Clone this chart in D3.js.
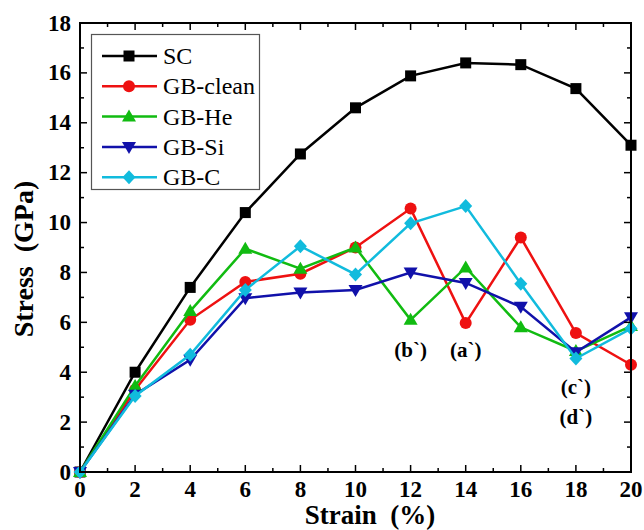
<!DOCTYPE html>
<html>
<head>
<meta charset='UTF-8'>
<script src='https://d3js.org/d3.v7.min.js'></script>
<style>
  body { margin: 0; background: #fff; }
  text { font-family: 'Liberation Serif', 'Times New Roman', serif; }
</style>
</head>
<body>
<svg id='chart' width='644' height='530'></svg>
<script type='text/javascript'>
    var strain = [0, 2, 4, 6, 8, 10, 12, 14, 16, 18, 20];
    var sc      = [0, 4.0, 7.4, 10.4, 12.75, 14.6, 15.88, 16.4, 16.33, 15.37, 13.1];
    var gbClean = [0, 3.3, 6.1, 7.62, 7.95, 9.0, 10.56, 5.97, 9.4, 5.57, 4.3];
    var gbHe    = [0, 3.45, 6.45, 8.95, 8.15, 9.0, 6.1, 8.2, 5.8, 4.85, 5.85];
    var gbSi    = [0, 3.1, 4.5, 6.97, 7.2, 7.3, 8.0, 7.58, 6.62, 4.8, 6.2];
    var gbC     = [0, 3.05, 4.7, 7.3, 9.05, 7.92, 9.97, 10.66, 7.55, 4.55, 5.75];
    var xTicks = [0, 2, 4, 6, 8, 10, 12, 14, 16, 18, 20];
    var yTicks = [0, 2, 4, 6, 8, 10, 12, 14, 16, 18];

    var series = [
        {name: 'SC', values: sc, color: '#000000', symbol: 'square'},
        {name: 'GB-clean', values: gbClean, color: '#ee1111', symbol: 'circle'},
        {name: 'GB-He', values: gbHe, color: '#11bb11', symbol: 'triUp'},
        {name: 'GB-Si', values: gbSi, color: '#1111aa', symbol: 'triDown'},
        {name: 'GB-C', values: gbC, color: '#11bbdd', symbol: 'diamond'}
    ];

    var notes = [
        {label: '(b`)', x: 12, y: 4.62},
        {label: '(a`)', x: 14, y: 4.62},
        {label: '(c`)', x: 18, y: 3.13},
        {label: '(d`)', x: 18, y: 1.92}
    ];

    var plotL = 80, plotR = 631, plotT = 23, plotB = 472;

    var svg = d3.select('#chart');
    var x = d3.scaleLinear().domain([0, 20]).range([plotL, plotR]);
    var y = d3.scaleLinear().domain([0, 18]).range([plotB, plotT]);

    // marker shapes
    function marker(g, sym, color) {
        if (sym === 'square') {
            g.append('rect').attr('x', -5.5).attr('y', -5.5).attr('width', 11).attr('height', 11).attr('fill', color);
        } else if (sym === 'circle') {
            g.append('circle').attr('r', 6).attr('fill', color);
        } else if (sym === 'triUp') {
            g.append('path').attr('d', 'M0,-7L7,5L-7,5Z').attr('fill', color);
        } else if (sym === 'triDown') {
            g.append('path').attr('d', 'M0,7L7,-5L-7,-5Z').attr('fill', color);
        } else {
            g.append('path').attr('d', 'M0,-7L6.5,0L0,7L-6.5,0Z').attr('fill', color);
        }
    }

    var line = d3.line()
        .x(function(d, i) { return x(strain[i]); })
        .y(function(d) { return y(d); });

    series.forEach(function(s) {
        svg.append('path')
            .attr('d', line(s.values))
            .attr('fill', 'none')
            .attr('stroke', s.color)
            .attr('stroke-width', 2.5);
        s.values.forEach(function(v, i) {
            var g = svg.append('g').attr('transform', 'translate(' + x(strain[i]) + ',' + y(v) + ')');
            marker(g, s.symbol, s.color);
        });
    });

    // frame and ticks (inward, mirrored)
    var frame = svg.append('g');
    frame.append('rect')
        .attr('x', plotL).attr('y', plotT)
        .attr('width', plotR - plotL).attr('height', plotB - plotT)
        .attr('fill', 'none').attr('stroke', '#000').attr('stroke-width', 2);

    d3.range(0, 21, 1).forEach(function(v) {
        var len = v % 2 === 0 ? 7 : 4;
        frame.append('line').attr('x1', x(v)).attr('x2', x(v)).attr('y1', plotB).attr('y2', plotB - len).attr('stroke', '#000').attr('stroke-width', 1.5);
        frame.append('line').attr('x1', x(v)).attr('x2', x(v)).attr('y1', plotT).attr('y2', plotT + len).attr('stroke', '#000').attr('stroke-width', 1.5);
    });
    d3.range(0, 19, 1).forEach(function(v) {
        var len = v % 2 === 0 ? 7 : 4;
        frame.append('line').attr('y1', y(v)).attr('y2', y(v)).attr('x1', plotL).attr('x2', plotL + len).attr('stroke', '#000').attr('stroke-width', 1.5);
        frame.append('line').attr('y1', y(v)).attr('y2', y(v)).attr('x1', plotR).attr('x2', plotR - len).attr('stroke', '#000').attr('stroke-width', 1.5);
    });

    // tick labels
    svg.selectAll('.xlab').data(xTicks).enter().append('text')
        .attr('x', function(d) { return x(d); })
        .attr('y', plotB + 25)
        .attr('text-anchor', 'middle')
        .attr('font-size', 23).attr('font-weight', 'bold')
        .text(function(d) { return d; });
    svg.selectAll('.ylab').data(yTicks).enter().append('text')
        .attr('x', plotL - 9)
        .attr('y', function(d) { return y(d) + 7.5; })
        .attr('text-anchor', 'end')
        .attr('font-size', 23).attr('font-weight', 'bold')
        .text(function(d) { return d; });

    // axis titles
    svg.append('text')
        .attr('x', 370).attr('y', 524)
        .attr('text-anchor', 'middle')
        .attr('font-size', 27).attr('font-weight', 'bold')
        .attr('xml:space', 'preserve')
        .text('Strain  (%)');
    svg.append('text')
        .attr('transform', 'translate(33,' + 259 + ') rotate(-90)')
        .attr('text-anchor', 'middle')
        .attr('font-size', 28).attr('font-weight', 'bold')
        .attr('xml:space', 'preserve')
        .text('Stress  (GPa)');

    // annotations
    svg.selectAll('.note').data(notes).enter().append('text')
        .attr('x', function(d) { return x(d.x); })
        .attr('y', function(d) { return y(d.y); })
        .attr('text-anchor', 'middle')
        .attr('font-size', 21).attr('font-weight', 'bold')
        .text(function(d) { return d.label; });

    // legend
    var legend = svg.append('g');
    legend.append('rect')
        .attr('x', 91.5).attr('y', 34.5).attr('width', 168).attr('height', 155)
        .attr('fill', '#fff').attr('stroke', '#555').attr('stroke-width', 1.2);
    series.forEach(function(s, i) {
        var ly = 56 + i * 30.3;
        legend.append('line').attr('x1', 102).attr('x2', 157).attr('y1', ly).attr('y2', ly)
            .attr('stroke', s.color).attr('stroke-width', 2.5);
        var g = legend.append('g').attr('transform', 'translate(129,' + ly + ')');
        marker(g, s.symbol, s.color);
        legend.append('text')
            .attr('x', 163).attr('y', ly + 8)
            .attr('font-size', 24)
            .text(s.name);
    });
</script>
</body>
</html>
